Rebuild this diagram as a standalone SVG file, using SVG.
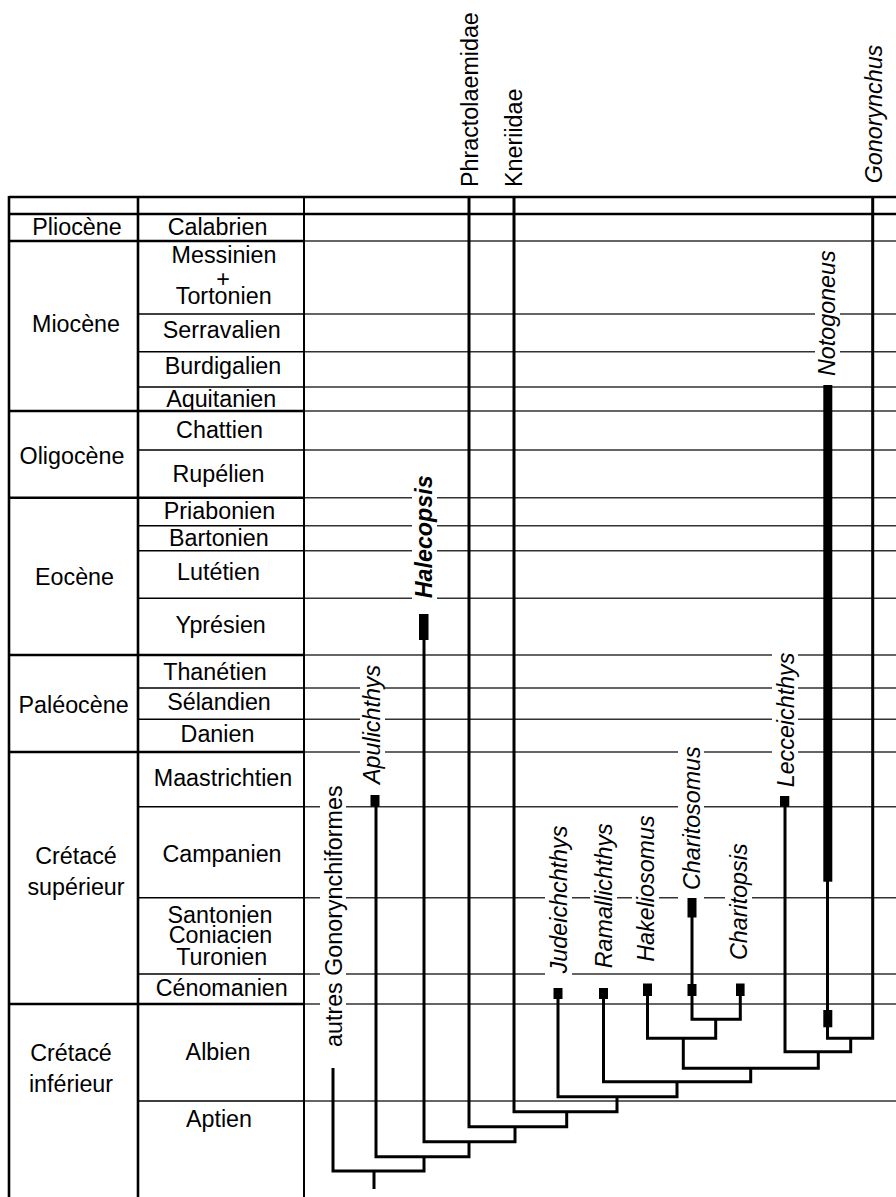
<svg xmlns="http://www.w3.org/2000/svg" width="896" height="1197" viewBox="0 0 896 1197">
<style>
text{font-family:"Liberation Sans",Arial,Helvetica,sans-serif;font-size:23.3px;fill:#000}
.c{text-anchor:middle}
.it{font-style:italic}
.bi{font-style:italic;font-weight:bold}
.thick{stroke:#000;stroke-width:2.6;fill:none}
.thin{stroke:#000;stroke-width:1.5;fill:none}
.grid{stroke:#333;stroke-width:1.5;fill:none}
.br{stroke:#000;stroke-width:3;fill:none;stroke-linejoin:miter}
.bg{fill:#fff}
.bar{fill:#000}
</style>
<rect width="896" height="1197" fill="#fff"/>
<g id="table">
<path class="grid" d="M304 241H896M304 314H896M304 351.7H896M304 387H896M304 411H896M304 450H896M304 497.7H896M304 525.7H896M304 550.7H896M304 598.3H896M304 655H896M304 688H896M304 719.3H896M304 752H896M304 806.7H896M304 897.7H896M304 974H896M304 1004H896M304 1101H896"/>
<path class="thin" d="M138 314H304M138 351.7H304M138 387H304M138 450H304M138 525.7H304M138 550.7H304M138 598.3H304M138 688H304M138 719.3H304M138 806.7H304M138 897.7H304M138 974H304M138 1101H304"/>
<path class="thick" d="M9 197H896M9 214H896M9 241H304M9 411H304M9 497.7H304M9 655H304M9 752H304M9 1004H304M9 196V1197M138 196V1197"/>
<path class="thin" d="M304 196V1197" style="stroke-width:2"/>
</g>
<g id="epochs">
<text class="c" x="77" y="235">Pliocène</text>
<text class="c" x="76" y="331.7">Miocène</text>
<text class="c" x="72" y="464">Oligocène</text>
<text class="c" x="74.5" y="585">Eocène</text>
<text class="c" x="73.6" y="713.3">Paléocène</text>
<text class="c" x="76" y="864.3">Crétacé</text>
<text class="c" x="76" y="895">supérieur</text>
<text class="c" x="71" y="1060.7">Crétacé</text>
<text class="c" x="71" y="1091.7">inférieur</text>
</g>
<g id="stages">
<text class="c" x="217.5" y="235">Calabrien</text>
<text class="c" x="224" y="262.7">Messinien</text>
<text class="c" x="223" y="287">+</text>
<text class="c" x="223.7" y="304.3">Tortonien</text>
<text class="c" x="221.7" y="338.3">Serravalien</text>
<text class="c" x="223" y="374.3">Burdigalien</text>
<text class="c" x="221.2" y="406.7">Aquitanien</text>
<text class="c" x="219.5" y="438.3">Chattien</text>
<text class="c" x="218.5" y="481.7">Rupélien</text>
<text class="c" x="219.5" y="519.3">Priabonien</text>
<text class="c" x="218.8" y="546">Bartonien</text>
<text class="c" x="218.5" y="580">Lutétien</text>
<text class="c" x="220.7" y="633.3">Yprésien</text>
<text class="c" x="215" y="680">Thanétien</text>
<text class="c" x="219" y="710">Sélandien</text>
<text class="c" x="217.5" y="741.7">Danien</text>
<text class="c" x="223" y="786">Maastrichtien</text>
<text class="c" x="222" y="861.7">Campanien</text>
<text class="c" x="220" y="922.7">Santonien</text>
<text class="c" x="220.5" y="943.3">Coniacien</text>
<text class="c" x="221.7" y="965">Turonien</text>
<text class="c" x="221.7" y="995.7">Cénomanien</text>
<text class="c" x="218" y="1060">Albien</text>
<text class="c" x="219" y="1126.7">Aptien</text>
</g>
<g id="label-backgrounds">
<rect class="bg" x="412" y="474" width="25" height="127"/>
<rect class="bg" x="360" y="659" width="25" height="128"/>
<rect class="bg" x="320" y="779" width="26" height="271"/>
<rect class="bg" x="545" y="819" width="27" height="157"/>
<rect class="bg" x="590" y="820" width="27" height="151"/>
<rect class="bg" x="632" y="812" width="27" height="153"/>
<rect class="bg" x="678" y="742" width="26" height="158"/>
<rect class="bg" x="725" y="841" width="27" height="122"/>
<rect class="bg" x="772" y="647" width="26" height="143"/>
<rect class="bg" x="815" y="244" width="25" height="135"/>
</g>
<g id="connectors">
<path class="br" d="M374 1189V1171M333 1068V1171H424V1156.7"/>
<path class="br" d="M376 806V1156.7H469V1141.7"/>
<path class="br" d="M424 639V1141.7H515V1126.7"/>
<path class="br" d="M469 197V1126.7H566.7V1111.7"/>
<path class="br" d="M514 197V1111.7H617V1096.7"/>
<path class="br" d="M558 998V1096.7H677V1081.7"/>
<path class="br" d="M603.5 998V1081.7H750.7V1068.3"/>
<path class="br" d="M683.3 1038.3V1068.3H818.3V1051.7"/>
<path class="br" d="M647.5 995V1038.3H715.7V1019.3"/>
<path class="br" d="M692 915V1019.3H740.3V995"/>
<path class="br" d="M785 806V1051.7H850.7V1038.3"/>
<path class="br" d="M827.5 880V1038.3H872.7V197"/>
</g>
<g id="n-autres"><text transform="translate(341.7 1047) rotate(-90)">autres Gonorynchiformes</text></g>
<g id="n-apulichthys"><text class="it" transform="translate(380 784) rotate(-90)">Apulichthys</text><rect class="bar" x="370.5" y="795" width="9" height="11.7"/></g>
<g id="n-halecopsis"><text class="bi" transform="translate(432 598.3) rotate(-90)">Halecopsis</text><rect class="bar" x="419" y="614" width="9.5" height="26"/></g>
<g id="n-phractolaemidae"><text transform="translate(477.5 187) rotate(-90)">Phractolaemidae</text></g>
<g id="n-kneriidae"><text transform="translate(521.5 187) rotate(-90)">Kneriidae</text></g>
<g id="n-judeichchthys"><text class="it" transform="translate(566.5 973.3) rotate(-90)">Judeichchthys</text><rect class="bar" x="553.5" y="988" width="9" height="11"/></g>
<g id="n-ramallichthys"><text class="it" transform="translate(612 968.3) rotate(-90)">Ramallichthys</text><rect class="bar" x="599" y="988" width="9" height="11"/></g>
<g id="n-hakeliosomus"><text class="it" transform="translate(654.3 961.7) rotate(-90)">Hakeliosomus</text><rect class="bar" x="643" y="983.5" width="9" height="12.5"/></g>
<g id="n-charitosomus"><text class="it" transform="translate(699.7 890) rotate(-90)">Charitosomus</text><rect class="bar" x="687.5" y="898" width="9" height="19.5"/><rect class="bar" x="687.5" y="984" width="9" height="12"/></g>
<g id="n-charitopsis"><text class="it" transform="translate(747 960) rotate(-90)">Charitopsis</text><rect class="bar" x="736" y="983.5" width="8.6" height="12.5"/></g>
<g id="n-lecceichthys"><text class="it" transform="translate(793.5 787.3) rotate(-90)">Lecceichthys</text><rect class="bar" x="780" y="796" width="9.3" height="10.7"/></g>
<g id="n-notogoneus"><text class="it" transform="translate(835 376) rotate(-90)">Notogoneus</text><rect class="bar" x="823.3" y="385" width="9" height="496.7"/><rect class="bar" x="823.3" y="1010" width="9" height="17.3"/></g>
<g id="n-gonorynchus"><text class="it" transform="translate(881.5 183.3) rotate(-90)">Gonorynchus</text></g>
</svg>
